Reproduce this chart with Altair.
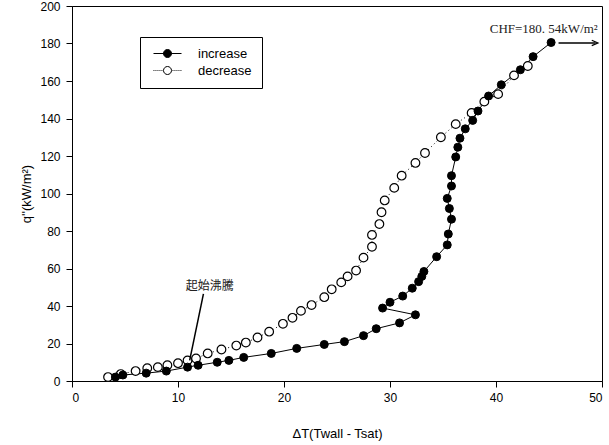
import altair as alt
import pandas as pd

# increasing heat flux (filled)
inc_x = [4.1, 4.8, 7.0, 8.9, 10.9, 11.9, 13.7, 14.8, 16.2, 18.8, 21.2, 23.8, 25.7, 27.5,
         28.7, 30.9, 32.4, 29.3, 30.0, 31.2, 32.1, 32.7, 33.0, 33.2, 34.4, 35.4, 35.5,
         35.8, 35.6, 35.4, 35.8, 35.8, 36.2, 36.4, 36.6, 37.1, 37.8, 38.3, 39.3, 40.5,
         42.3, 43.5, 45.2]
inc_y = [2.1, 3.2, 4.2, 5.3, 7.4, 8.4, 10.0, 11.0, 12.6, 14.7, 17.4, 19.5, 21.0, 24.2,
         27.9, 31.0, 35.3, 38.9, 42.0, 45.3, 49.5, 53.0, 55.8, 58.4, 66.3, 72.6, 78.4,
         86.3, 92.0, 97.4, 104.0, 109.5, 119.5, 124.7, 129.5, 134.5, 139.0, 144.0, 152.0,
         158.0, 166.0, 173.0, 180.54]

# decreasing heat flux (open)
dec_x = [3.4, 4.6, 6.0, 7.1, 8.1, 9.0, 10.0, 10.9, 11.7, 12.8, 14.1, 15.5, 16.4, 17.5,
         18.6, 19.9, 20.8, 21.6, 22.6, 23.8, 24.5, 25.4, 26.0, 26.8, 27.5, 28.3, 28.3,
         29.0, 29.2, 29.5, 30.4, 31.1, 32.4, 33.3, 34.8, 36.2, 37.7, 38.9, 40.2, 41.7, 43.0]
dec_y = [2.1, 3.7, 5.3, 6.8, 7.4, 8.4, 9.5, 11.0, 12.0, 14.7, 16.8, 18.9, 20.5, 23.2,
         26.3, 30.5, 33.7, 37.4, 40.5, 44.7, 48.9, 52.6, 55.8, 58.9, 65.8, 71.6, 77.9,
         83.7, 90.0, 96.3, 103.0, 109.5, 116.3, 121.6, 130.0, 137.0, 143.0, 149.0, 153.0,
         163.0, 168.0]

series_names = ["increase", "decrease"]
x_ticks = [0, 10, 20, 30, 40, 50]
y_ticks = [0, 20, 40, 60, 80, 100, 120, 140, 160, 180, 200]

# annotations
onb_text = "起始沸騰"
onb_text_xy = [13.0, 50.5]
onb_line_x = [12.4, 11.1]
onb_line_y = [46.5, 11.0]
chf_text = "CHF=180. 54kW/m²"
chf_text_xy = [49.6, 187.5]
chf_arrow_x = [45.9, 49.4]
chf_arrow_y = [180.3, 180.3]

df = pd.concat([
    pd.DataFrame({"x": inc_x, "y": inc_y, "s": series_names[0], "o": range(len(inc_x))}),
    pd.DataFrame({"x": dec_x, "y": dec_y, "s": series_names[1], "o": range(len(dec_x))}),
])

xs = alt.Scale(domain=[0, 50], nice=False)
ys = alt.Scale(domain=[0, 200], nice=False)
ax_x = alt.Axis(values=x_ticks, labelOverlap=False)
ax_y = alt.Axis(values=y_ticks, labelOverlap=False)
X = alt.X("x:Q", scale=xs, title="ΔT(Twall - Tsat)", axis=ax_x)
Y = alt.Y("y:Q", scale=ys, title="q''(kW/m²)", axis=ax_y)

base = alt.Chart(df)

line_inc = base.transform_filter(alt.datum.s == "increase").mark_line(
    color="black", strokeWidth=1).encode(x=X, y=Y, order="o:Q")
line_dec = base.transform_filter(alt.datum.s == "decrease").mark_line(
    color="black", strokeWidth=1, strokeDash=[1, 3]).encode(x=X, y=Y, order="o:Q")

pts_dec = base.transform_filter(alt.datum.s == "decrease").mark_point(
    shape="circle", size=75, filled=True, fill="white", stroke="black", strokeWidth=1.2,
    opacity=1).encode(x=X, y=Y)
pts_inc = base.transform_filter(alt.datum.s == "increase").mark_point(
    shape="circle", size=64, filled=True, fill="black", stroke="black", strokeWidth=1,
    opacity=1).encode(x=X, y=Y)

circ = "M-0.8,0A0.8,0.8 0 1,0 0.8,0A0.8,0.8 0 1,0 -0.8,0Z"
sym_inc = "M-2.8,0L2.8,0" + circ
dots = "".join(f"M{a:.2f},0L{a + 0.18:.2f},0" for a in [-2.8, -2.4, -2.0, -1.6, -1.2])
dots += "".join(f"M{a:.2f},0L{a + 0.18:.2f},0" for a in [1.0, 1.4, 1.8, 2.2, 2.6])
sym_dec = dots + circ

leg = alt.Legend(title=None, orient="none", legendX=68, legendY=31,
                 fillColor="white", strokeColor="black",
                 padding=10, symbolSize=100, symbolOpacity=1,
                 symbolStrokeColor="black", symbolStrokeWidth=1,
                 symbolOffset=11, labelOffset=24, rowPadding=3,
                 labelFont="Liberation Sans", labelFontSize=13,
                 labelColor="black")

legend_layer = base.mark_point(filled=False, size=0, opacity=1, strokeWidth=1).encode(
    x=X, y=Y,
    shape=alt.Shape("s:N", scale=alt.Scale(domain=series_names, range=[sym_inc, sym_dec]),
                    legend=leg),
    fill=alt.Fill("s:N", scale=alt.Scale(domain=series_names, range=["black", "white"]),
                  legend=leg),
    stroke=alt.Stroke("s:N", scale=alt.Scale(domain=series_names, range=["black", "black"]),
                      legend=leg),
)

def ann_x(f):
    return alt.X(f, scale=xs, title="ΔT(Twall - Tsat)", axis=ax_x)

def ann_y(f):
    return alt.Y(f, scale=ys, title="q''(kW/m²)", axis=ax_y)

ann = pd.DataFrame({"x": [onb_line_x[0]], "y": [onb_line_y[0]],
                    "x2": [onb_line_x[1]], "y2": [onb_line_y[1]]})
onb_rule = alt.Chart(ann).mark_rule(color="black", strokeWidth=1.5).encode(
    x=ann_x("x:Q"), y=ann_y("y:Q"), x2="x2:Q", y2="y2:Q")
onb_lab = alt.Chart(pd.DataFrame({"x": [onb_text_xy[0]], "y": [onb_text_xy[1]], "t": [onb_text]})
                    ).mark_text(font="Noto Sans CJK TC", fontSize=12, color="#222",
                                align="center", baseline="middle").encode(
    x=ann_x("x:Q"), y=ann_y("y:Q"), text="t:N")

arr = pd.DataFrame({"x": [chf_arrow_x[0]], "y": [chf_arrow_y[0]],
                    "x2": [chf_arrow_x[1]], "y2": [chf_arrow_y[1]]})
chf_rule = alt.Chart(arr).mark_rule(color="black", strokeWidth=1.5).encode(
    x=ann_x("x:Q"), y=ann_y("y:Q"), x2="x2:Q", y2="y2:Q")
chf_head = alt.Chart(pd.DataFrame({"x": [chf_arrow_x[1]], "y": [chf_arrow_y[1]]})).mark_point(
    shape="M-1,-0.7L0.6,0L-1,0.7", size=60, filled=False, stroke="black", strokeWidth=1.2,
    opacity=1).encode(x=ann_x("x:Q"), y=ann_y("y:Q"))
chf_lab = alt.Chart(pd.DataFrame({"x": [chf_text_xy[0]], "y": [chf_text_xy[1]], "t": [chf_text]})
                    ).mark_text(font="Liberation Serif", fontSize=13, color="#222",
                                align="right", baseline="middle").encode(
    x=ann_x("x:Q"), y=ann_y("y:Q"), text="t:N")

chart = alt.layer(
    legend_layer, line_dec, line_inc, pts_dec, pts_inc,
    onb_rule, onb_lab, chf_rule, chf_head, chf_lab,
).properties(
    width=530, height=375,
    autosize=alt.AutoSizeParams(type="none"),
    padding={"left": 72, "top": 6, "right": 7, "bottom": 64},
).configure_view(
    stroke="black", strokeWidth=1
).configure_axis(
    grid=False, domainColor="black", tickColor="black", tickSize=6,
    labelFont="Liberation Sans", labelFontSize=12, labelColor="black",
    titleFont="Liberation Sans", titleFontSize=13, titleFontWeight="normal",
    titleColor="black",
).configure_axisX(labelPadding=5, titlePadding=24
).configure_axisY(labelPadding=6, titlePadding=6)

chart.save("out.html", embed_options={"renderer": "svg", "actions": False})
